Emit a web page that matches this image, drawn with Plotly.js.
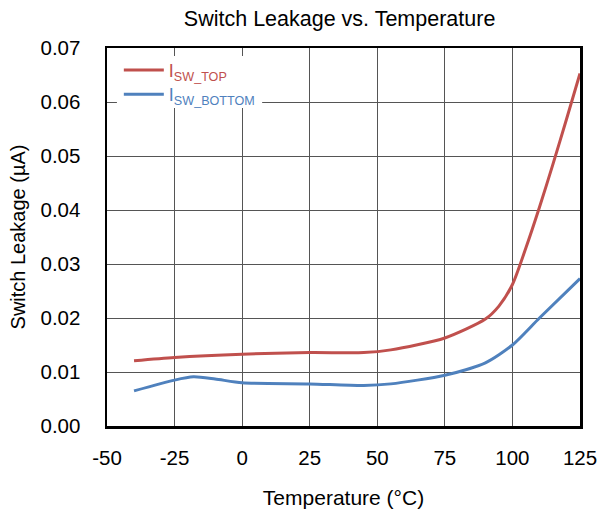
<!DOCTYPE html>
<html>
<head>
<meta charset="utf-8">
<script src="https://cdn.plot.ly/plotly-3.0.1.min.js"></script>
<style>html,body{margin:0;padding:0;background:#fff;}#chart{width:600px;height:514px;}</style>
</head>
<body>
<div id="chart"></div>
<script>
// Temperature (°C)
const tempTop = [-40, -25, 0, 25, 45, 55, 75, 90, 95, 100, 105, 110, 115, 120, 125];
const leakTop = [0.0121, 0.0127, 0.0133, 0.0136, 0.0136, 0.0141, 0.0163, 0.0198, 0.0222, 0.0262, 0.0330, 0.0405, 0.0485, 0.0568, 0.0653];
const tempBottom = [-40, -25, -18, -10, 0, 25, 45, 55, 75, 90, 100, 110, 125];
const leakBottom = [0.0065, 0.0085, 0.0091, 0.0087, 0.0080, 0.0078, 0.0075, 0.0078, 0.0094, 0.0117, 0.0150, 0.0200, 0.0273];
const xTicks = [-50, -25, 0, 25, 50, 75, 100, 125];
const yTicks = [0, 0.01, 0.02, 0.03, 0.04, 0.05, 0.06, 0.07];

const RED = '#C0504D', BLUE = '#4F81BD';
const FONT = 'Liberation Sans, Arial, sans-serif';

const traces = [
  {x: tempTop, y: leakTop, type: 'scatter', mode: 'lines', legend: 'legend',
   name: '<span style="color:' + RED + '">I<sub>SW_TOP</sub></span>',
   line: {color: RED, width: 3, shape: 'spline', smoothing: 0.7}},
  {x: tempBottom, y: leakBottom, type: 'scatter', mode: 'lines', legend: 'legend2',
   name: '<span style="color:' + BLUE + '">I<sub>SW_BOTTOM</sub></span>',
   line: {color: BLUE, width: 3, shape: 'spline', smoothing: 0.7}}
];

const legendBase = {xanchor: 'left', yanchor: 'top', bgcolor: 'rgba(0,0,0,0)', borderwidth: 0,
                    font: {family: FONT, size: 18}, itemwidth: 40};

const layout = {
  width: 600, height: 514,
  margin: {l: 107, r: 20, t: 48, b: 88},
  paper_bgcolor: '#fff', plot_bgcolor: '#fff',
  font: {family: FONT, size: 20, color: '#000'},
  title: {text: 'Switch Leakage vs. Temperature', font: {family: FONT, size: 21.5, color: '#000'},
          x: 0.566, xanchor: 'center', y: 0.965, yanchor: 'middle'},
  xaxis: {
    range: [-50, 125], tickmode: 'array', tickvals: xTicks, ticktext: xTicks.map(String),
    showgrid: true, gridcolor: '#555', gridwidth: 1,
    showline: true, linecolor: '#000', linewidth: 2.5, mirror: true,
    ticks: '', zeroline: false, ticklabelstandoff: 12,
    tickfont: {family: FONT, size: 20.5, color: '#000'},
    title: {text: 'Temperature (°C)', font: {family: FONT, size: 21, color: '#000'}, standoff: 22}
  },
  yaxis: {
    range: [0, 0.07], tickmode: 'array', tickvals: yTicks, ticktext: yTicks.map(v => v.toFixed(2)),
    showgrid: true, gridcolor: '#555', gridwidth: 1,
    showline: true, linecolor: '#000', linewidth: 2.5, mirror: true,
    ticks: '', zeroline: false, ticklabelstandoff: 20,
    tickfont: {family: FONT, size: 20.5, color: '#000'},
    title: {text: 'Switch Leakage (µA)', font: {family: FONT, size: 20, color: '#000'}, standoff: 10}
  },
  shapes: [{type: 'rect', xref: 'paper', yref: 'paper', layer: 'above',
            x0: 0.021, x1: 0.328, y0: 0.841, y1: 0.979,
            fillcolor: '#fff', line: {width: 0}}],
  showlegend: true,
  legend: Object.assign({x: 0.025, y: 0.990}, legendBase),
  legend2: Object.assign({x: 0.025, y: 0.926}, legendBase)
};

Plotly.newPlot('chart', traces, layout, {displayModeBar: false, staticPlot: true});
</script>
</body>
</html>
